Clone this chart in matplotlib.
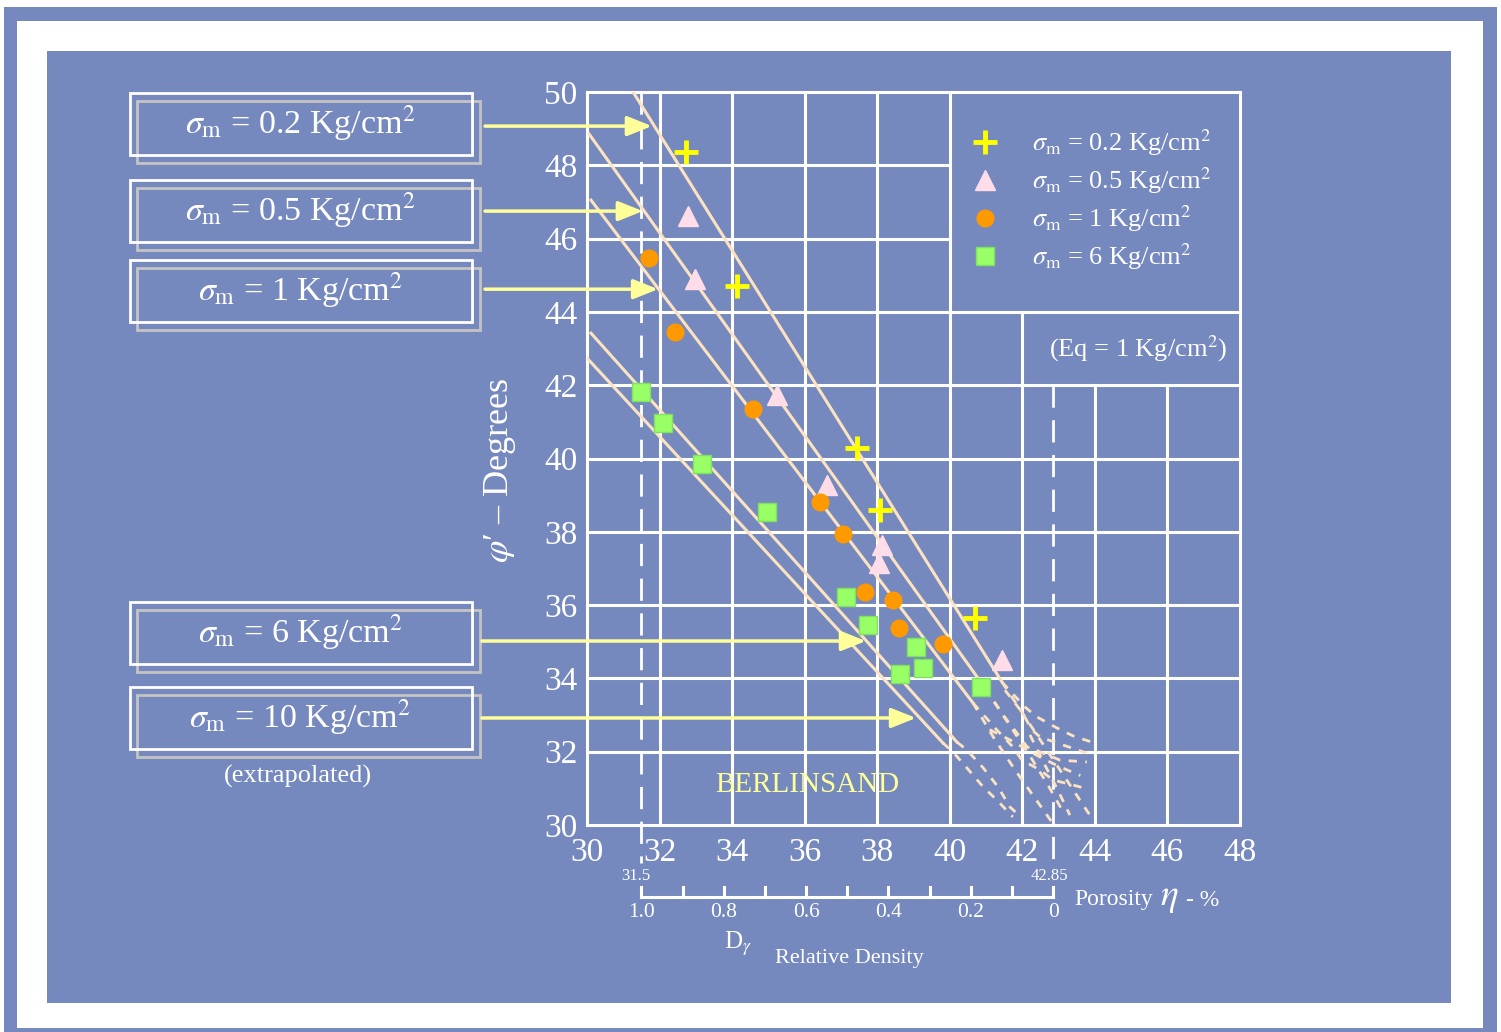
import numpy as np
import matplotlib
matplotlib.use('Agg')
import matplotlib.pyplot as plt
from matplotlib.patches import Rectangle
import matplotlib.transforms as mtransforms

plt.rcParams['font.family'] = ['Liberation Serif', 'DejaVu Serif']
plt.rcParams['mathtext.fontset'] = 'stix'
plt.rcParams['lines.scale_dashes'] = False

BLUE = '#7689be'
CREAM = '#fbe3c2'
PALE_YELLOW = '#ffff99'

# --- axes values
x_ticks = list(range(30, 49, 2))
y_ticks = list(range(30, 51, 2))

# --- measured points (porosity %, phi' degrees)
plus_x = [32.73, 34.13, 37.44, 38.08, 40.69]
plus_y = [48.36, 44.71, 40.29, 38.59, 35.65]
tri_x = [32.78, 32.98, 35.24, 36.62, 38.13, 38.05, 41.44]
tri_y = [46.62, 44.90, 41.73, 39.28, 37.64, 37.15, 34.50]
dot_x = [31.71, 32.43, 34.58, 36.42, 37.06, 37.66, 38.43, 38.60, 39.81]
dot_y = [45.47, 43.45, 41.35, 38.81, 37.94, 36.36, 36.14, 35.38, 34.94]
sq_x = [31.49, 32.09, 33.17, 34.96, 37.14, 37.75, 39.07, 39.26, 38.63, 40.86]
sq_y = [41.81, 40.97, 39.85, 38.54, 36.22, 35.46, 34.86, 34.28, 34.12, 33.77]

# --- fitted lines: 0.2, 0.5, 1, 6, 10 Kg/cm2
fit_x0 = [31.27, 30.06, 30.11, 30.11, 30.00]
fit_y0 = [50.00, 48.85, 47.05, 43.42, 42.74]
fit_x1 = [41.44, 40.97, 40.64, 40.20, 39.81]
fit_y1 = [33.90, 33.74, 33.33, 32.26, 32.24]

# --- dashed extrapolations
ext_x = [
    [41.44, 42.07, 42.40, 42.95, 43.40, 43.92],
    [41.44, 43.86],
    [40.97, 41.47, 41.85, 42.13, 42.57, 43.04, 43.78],
    [40.64, 41.30, 41.74, 41.99, 42.49, 42.84, 43.59, 43.81],
    [41.52, 41.99, 42.27, 42.49, 42.95, 43.78],
    [40.20, 40.47, 40.92, 41.33, 41.66, 41.99],
    [39.81, 40.09, 40.47, 40.92, 41.30, 41.74],
    [42.21, 42.62, 42.98, 43.31],
    [40.97, 41.60, 42.20, 42.70, 43.10],
    [40.64, 41.20, 41.80, 42.30, 42.80],
    [41.10, 41.70, 42.40, 43.00, 43.60],
]
ext_y = [
    [33.90, 33.22, 32.95, 32.65, 32.43, 32.26],
    [33.90, 30.27],
    [33.74, 33.00, 32.51, 32.13, 31.96, 31.77, 31.72],
    [33.33, 32.59, 32.13, 31.77, 31.50, 31.23, 31.04, 30.90],
    [33.68, 33.08, 32.59, 32.40, 32.24, 31.96],
    [32.26, 32.05, 31.56, 31.04, 30.49, 30.19],
    [32.24, 31.99, 31.56, 31.04, 30.68, 30.22],
    [32.46, 31.64, 30.95, 30.27],
    [33.74, 32.80, 31.90, 31.10, 30.40],
    [33.33, 32.40, 31.50, 30.80, 30.10],
    [32.60, 32.30, 31.90, 31.60, 31.35],
]

# --- limits at Dr = 1 and Dr = 0
n_dense = 31.5
n_loose = 42.85
dr_ticks = [1.0, 0.9, 0.8, 0.7, 0.6, 0.5, 0.4, 0.3, 0.2, 0.1, 0.0]
dr_labels = ['1.0', '', '0.8', '', '0.6', '', '0.4', '', '0.2', '', '0']

# --- callouts
box_values = ['0.2', '0.5', '1', '6', '10']
arrow_tip_x = [31.79, 31.54, 31.96, 37.69, 39.07]
arrow_tip_y = [49.07, 46.75, 44.62, 35.02, 32.92]
legend_values = ['0.2', '0.5', '1', '6']

fig = plt.figure(figsize=(15.01, 10.32), dpi=100, facecolor='white')

# background layer in pixel units
bg = fig.add_axes([0, 0, 1, 1], zorder=0)
bg.set_xlim(0, 1501)
bg.set_ylim(1032, 0)
bg.axis('off')
bg.add_patch(Rectangle((4, 7), 1493, 1030, fc=BLUE, ec='none'))
bg.add_patch(Rectangle((17, 21), 1466, 1007, fc='white', ec='none'))
bg.add_patch(Rectangle((47, 51), 1404, 952, fc=BLUE, ec='none'))

ax = fig.add_axes([587 / 1501, 1 - 825 / 1032, 653 / 1501, 733 / 1032], zorder=1)
ax.patch.set_visible(False)
ax.set_xlim(30, 48)
ax.set_ylim(30, 50)
ax.set_xticks(x_ticks)
ax.set_yticks(y_ticks)
ax.tick_params(length=0, labelcolor='white', labelsize=24)
ax.tick_params(axis='x', pad=9)
ax.tick_params(axis='y', pad=7)
for s in ax.spines.values():
    s.set_color('white')
    s.set_linewidth(2.2)

# grid, cut around the legend and the Eq box
for x in x_ticks[1:-1]:
    top = 50 if x <= 40 else (44 if x == 42 else 42)
    ax.plot([x, x], [30, top], color='white', lw=2.2, zorder=1)
for y in y_ticks[1:-1]:
    right = 48 if y <= 44 else 40
    ax.plot([30, right], [y, y], color='white', lw=2.2, zorder=1)

# limit lines
ax.plot([n_dense, n_dense], [50, 28.96], color='white', lw=2, dashes=(16, 9),
        clip_on=False, zorder=2)
ax.plot([n_loose, n_loose], [42, 28.96], color='white', lw=2, dashes=(16, 9),
        clip_on=False, zorder=2)

for x0, y0, x1, y1 in zip(fit_x0, fit_y0, fit_x1, fit_y1):
    ax.plot([x0, x1], [y0, y1], color=CREAM, lw=2.2, zorder=3)
for xs, ys in zip(ext_x, ext_y):
    ax.plot(xs, ys, color=CREAM, lw=2, dashes=(6, 6), zorder=3)

h1, = ax.plot(plus_x, plus_y, ls='none', marker='+', ms=17, mew=3.5, color='#ffff00', zorder=5)
h2, = ax.plot(tri_x, tri_y, ls='none', marker='^', ms=15, color='#ffdde8', mec='#ffdde8', zorder=5)
h3, = ax.plot(dot_x, dot_y, ls='none', marker='o', ms=12, color='#ff9900', mec='#ff9900', zorder=5)
h4, = ax.plot(sq_x, sq_y, ls='none', marker='s', ms=12.5, color='#99ff66', mec='#80e060', zorder=5)

labels = [r'$\sigma_{\rm m}$ = %s Kg/cm$^{2}$' % v for v in legend_values]
leg = ax.legend([h1, h2, h3, h4], labels, loc='upper left', bbox_to_anchor=(0.59, 0.952),
                frameon=False, fontsize=19, labelcolor='white', handlelength=1.0,
                handletextpad=1.25, labelspacing=0.28, borderpad=0, borderaxespad=0)

ax.text(45.19, 42.99, r'(Eq = 1 Kg/cm$^{2}$)', color='white', fontsize=19,
        ha='center', va='center')
ax.text(36.06, 31.09, 'BERLINSAND', color=PALE_YELLOW, fontsize=21, ha='center', va='center')

ax.set_ylabel(r"$\varphi$′ – Degrees", color='white', fontsize=26)
ax.yaxis.set_label_coords(-0.105, 0.484)

# relative density scale under the porosity axis
tr = mtransforms.blended_transform_factory(ax.transData, ax.transAxes)
dr_pos = [n_loose - d * (n_loose - n_dense) for d in dr_ticks]
ax.plot([dr_pos[0], dr_pos[-1]], [-0.098, -0.098], color='white', lw=2.2,
        transform=tr, clip_on=False)
for p, lab in zip(dr_pos, dr_labels):
    ax.plot([p, p], [-0.098, -0.085], color='white', lw=2.2, transform=tr, clip_on=False)
    if lab:
        ax.text(p, -0.12, lab, color='white', fontsize=15.5, ha='center', va='center',
                transform=tr)
ax.text(n_dense - 0.15, -0.0695, '31.5', color='white', fontsize=12, ha='center', va='center',
        transform=tr)
ax.text(n_loose - 0.1, -0.0695, '42.85', color='white', fontsize=12, ha='center', va='center',
        transform=tr)

bg.text(1074, 900, 'Porosity', color='white', fontsize=17, ha='left', va='center')
bg.text(1160, 898, r'$\eta$', color='white', fontsize=27, ha='left', va='center')
bg.text(1186, 900, '- %', color='white', fontsize=17, ha='left', va='center')
bg.text(724, 944, r'D$_{\gamma}$', color='white', fontsize=18, ha='left', va='center')
bg.text(775, 958, 'Relative Density', color='white', fontsize=16, ha='left', va='center')

# callout boxes and arrows
box_tops = [93, 180, 260, 602, 687]
arrow_tail = [485, 485, 485, 482, 482]
tail_tr = mtransforms.blended_transform_factory(bg.transData, ax.transData)
for top, v, tx, ty, tail in zip(box_tops, box_values, arrow_tip_x, arrow_tip_y, arrow_tail):
    bg.add_patch(Rectangle((137, top + 8), 343, 62, fill=False, ec='#c4c4c4', lw=2))
    bg.add_patch(Rectangle((130, top), 342, 62, fill=False, ec='white', lw=2))
    bg.text(300, top + 30, r'$\sigma_{\rm m}$ = %s Kg/cm$^{2}$' % v, color='white',
            fontsize=24.5, ha='center', va='center')
    ax.annotate('', xy=(tx, ty), xycoords='data', xytext=(tail, ty), textcoords=tail_tr,
                annotation_clip=False,
                arrowprops=dict(arrowstyle='-|>,head_length=0.75,head_width=0.3',
                                mutation_scale=20, color=PALE_YELLOW, lw=2.5,
                                shrinkA=0, shrinkB=0))
bg.text(298, 776, '(extrapolated)', color='white', fontsize=19, ha='center', va='center')

fig.savefig('out.png', dpi=100, facecolor='white')
